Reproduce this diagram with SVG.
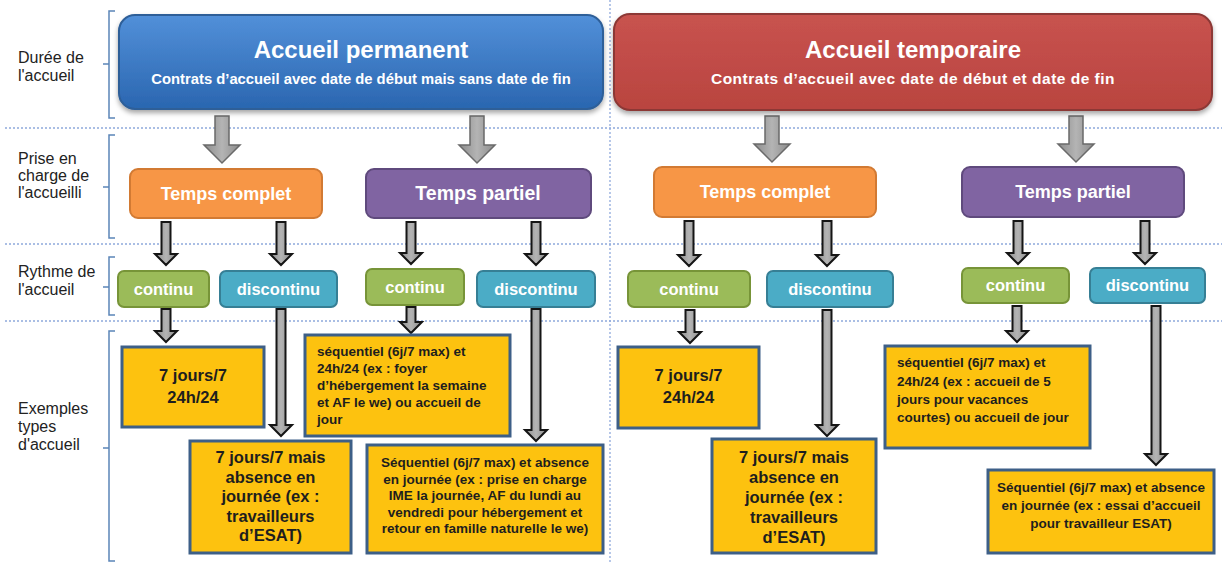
<svg xmlns="http://www.w3.org/2000/svg" width="1222" height="564" viewBox="0 0 1222 564">
<defs>
<linearGradient id="gBlue" x1="0" y1="0" x2="0" y2="1"><stop offset="0" stop-color="#5290d9"/><stop offset="1" stop-color="#2a66b0"/></linearGradient>
<linearGradient id="gRed" x1="0" y1="0" x2="0" y2="1"><stop offset="0" stop-color="#c8534f"/><stop offset="1" stop-color="#b9443f"/></linearGradient>
<linearGradient id="gArr" x1="0" y1="0" x2="1" y2="0"><stop offset="0" stop-color="#8c8c8c"/><stop offset="0.5" stop-color="#b4b4b4"/><stop offset="1" stop-color="#8c8c8c"/></linearGradient>
<filter id="sh" x="-5%" y="-10%" width="110%" height="130%"><feDropShadow dx="0" dy="3" stdDeviation="2.5" flood-color="#000" flood-opacity="0.35"/></filter>
</defs>
<style>
.lbl{font-family:"Liberation Sans",Arial,sans-serif;font-size:16px;fill:#222}
.brk{fill:none;stroke:#5b85b8;stroke-width:1.5}
.dot{stroke:#8fa9dc;stroke-width:1.3;stroke-dasharray:2 2;fill:none}
.wt{font-family:"Liberation Sans",Arial,sans-serif;font-weight:bold;fill:#fff;text-anchor:middle}
.yb{fill:#fdc20f;stroke:#3d5f87;stroke-width:3}
.yt{font-family:"Liberation Sans",Arial,sans-serif;font-weight:bold;fill:#1e1e1e;font-size:13.5px}
.yc{text-anchor:middle}
.big{font-size:16.5px}
.barr{fill:url(#gArr);stroke:#6a6a6a;stroke-width:1.5;stroke-linejoin:miter}
.arr{fill:url(#gArr);stroke:#151515;stroke-width:2;stroke-linejoin:miter}
.orange{fill:#f79646;stroke:#d27a33;stroke-width:2}
.purple{fill:#8064a2;stroke:#5f4a7d;stroke-width:2}
.green{fill:#9bbb59;stroke:#779438;stroke-width:2}
.teal{fill:#4bacc6;stroke:#367f95;stroke-width:2}
</style>
<rect width="1222" height="564" fill="#fff"/>
<g id="grid">
<path class="dot" d="M5,128 H1222 M5,244 H1222 M5,321 H1222"/>
<path class="dot" d="M610,0 V564"/>
</g>
<g id="row-labels">
<path class="brk" d="M115,11 H109 V118 H115 M109,64 H103"/>
<text class="lbl" x="18" y="63">Durée de</text>
<text class="lbl" x="18" y="81">l'accueil</text>
<path class="brk" d="M115,135 H109 V238 H115 M109,187 H103"/>
<text class="lbl" x="18" y="164">Prise en</text>
<text class="lbl" x="18" y="181">charge de</text>
<text class="lbl" x="18" y="198">l'accueilli</text>
<path class="brk" d="M115,257 H109 V315 H115 M109,287 H103"/>
<text class="lbl" x="18" y="277">Rythme de</text>
<text class="lbl" x="18" y="295">l'accueil</text>
<path class="brk" d="M115,331 H109 V561 H115 M109,448 H103"/>
<text class="lbl" x="18" y="414">Exemples</text>
<text class="lbl" x="18" y="432">types</text>
<text class="lbl" x="18" y="450">d'accueil</text>
</g>
<g id="connectors">
<path class="barr" d="M215,116 H229 V145 H240 L222,163 L204,145 H215 Z"/>
<path class="barr" d="M470,116 H484 V145 H495 L477,163 L459,145 H470 Z"/>
<path class="barr" d="M765,116 H779 V144 H790 L772,162 L754,144 H765 Z"/>
<path class="barr" d="M1069,116 H1083 V144 H1094 L1076,162 L1058,144 H1069 Z"/>
<path class="arr" d="M161.5,222 H170.5 V254 H177 L166,265 L155,254 H161.5 Z"/>
<path class="arr" d="M276.5,222 H285.5 V254 H292 L281,265 L270,254 H276.5 Z"/>
<path class="arr" d="M406.5,222 H415.5 V253 H422 L411,264 L400,253 H406.5 Z"/>
<path class="arr" d="M531.5,222 H540.5 V254 H547 L536,265 L525,254 H531.5 Z"/>
<path class="arr" d="M684.5,221 H693.5 V255 H700 L689,266 L678,255 H684.5 Z"/>
<path class="arr" d="M822.5,221 H831.5 V255 H838 L827,266 L816,255 H822.5 Z"/>
<path class="arr" d="M1013.5,221 H1022.5 V253 H1029 L1018,264 L1007,253 H1013.5 Z"/>
<path class="arr" d="M1140.5,221 H1149.5 V253 H1156 L1145,264 L1134,253 H1140.5 Z"/>
<path class="arr" d="M161.5,309 H170.5 V331 H177 L166,342 L155,331 H161.5 Z"/>
<path class="arr" d="M276.5,309 H285.5 V425 H292 L281,436 L270,425 H276.5 Z"/>
<path class="arr" d="M406.5,307 H415.5 V322 H422 L411,333 L400,322 H406.5 Z"/>
<path class="arr" d="M531.5,309 H540.5 V430 H547 L536,441 L525,430 H531.5 Z"/>
<path class="arr" d="M685.5,310 H694.5 V332 H701 L690,343 L679,332 H685.5 Z"/>
<path class="arr" d="M822.5,310 H831.5 V425 H838 L827,436 L816,425 H822.5 Z"/>
<path class="arr" d="M1012.5,306 H1021.5 V331 H1028 L1017,342 L1006,331 H1012.5 Z"/>
<path class="arr" d="M1151.5,306 H1160.5 V454 H1167 L1156,465 L1145,454 H1151.5 Z"/>
</g>
<g id="accueil-permanent">
<rect x="119" y="15" width="484" height="94" rx="16" fill="url(#gBlue)" stroke="#2d5e98" stroke-width="2" filter="url(#sh)"/>
<text class="wt" x="361" y="58" font-size="24px">Accueil permanent</text>
<text class="wt" x="361" y="84" font-size="14.8px">Contrats d’accueil avec date de début mais sans date de fin</text>
</g>
<g id="accueil-temporaire">
<rect x="614" y="14" width="598" height="96" rx="16" fill="url(#gRed)" stroke="#8c3936" stroke-width="2" filter="url(#sh)"/>
<text class="wt" x="913" y="58" font-size="24px">Accueil temporaire</text>
<text class="wt" x="913" y="84" font-size="15.5px" letter-spacing="0.5">Contrats d’accueil avec date de début et date de fin</text>
</g>
<g id="tc-perm"><rect class="orange" x="130" y="169" width="192" height="49" rx="8"/><text class="wt" x="226" y="200" font-size="18px">Temps complet</text></g>
<g id="tp-perm"><rect class="purple" x="366" y="169" width="225" height="49" rx="8"/><text class="wt" x="478" y="200" font-size="19.5px">Temps partiel</text></g>
<g id="tc-temp"><rect class="orange" x="654" y="167" width="222" height="50" rx="8"/><text class="wt" x="765" y="198" font-size="18px">Temps complet</text></g>
<g id="tp-temp"><rect class="purple" x="962" y="167" width="222" height="50" rx="8"/><text class="wt" x="1073" y="198" font-size="18px">Temps partiel</text></g>
<g id="c1"><rect class="green" x="118" y="271" width="91" height="36" rx="6"/><text class="wt" x="163.5" y="295" font-size="16.5px">continu</text></g>
<g id="d1"><rect class="teal" x="220" y="271" width="117" height="36" rx="6"/><text class="wt" x="278.5" y="295" font-size="16.5px">discontinu</text></g>
<g id="c2"><rect class="green" x="366" y="269" width="98" height="36" rx="6"/><text class="wt" x="415" y="293" font-size="16.5px">continu</text></g>
<g id="d2"><rect class="teal" x="477" y="271" width="118" height="36" rx="6"/><text class="wt" x="536" y="295" font-size="16.5px">discontinu</text></g>
<g id="c3"><rect class="green" x="628" y="271" width="122" height="36" rx="6"/><text class="wt" x="689" y="295" font-size="16.5px">continu</text></g>
<g id="d3"><rect class="teal" x="767" y="271" width="126" height="36" rx="6"/><text class="wt" x="830" y="295" font-size="16.5px">discontinu</text></g>
<g id="c4"><rect class="green" x="962" y="268" width="107" height="35" rx="6"/><text class="wt" x="1015.5" y="291" font-size="16.5px">continu</text></g>
<g id="d4"><rect class="teal" x="1090" y="268" width="115" height="35" rx="6"/><text class="wt" x="1147.5" y="291" font-size="16.5px">discontinu</text></g>
<g id="ex1"><rect class="yb" x="122" y="347" width="142" height="80"/>
<text class="yt yc big" x="193" y="381">7 jours/7</text><text class="yt yc big" x="193" y="403">24h/24</text></g>
<g id="ex2"><rect class="yb" x="190" y="441" width="161" height="112"/>
<text class="yt yc big" x="270.5" y="463">7 jours/7 mais</text><text class="yt yc big" x="270.5" y="482.5">absence en</text><text class="yt yc big" x="270.5" y="502">journée (ex :</text><text class="yt yc big" x="270.5" y="521.5">travailleurs</text><text class="yt yc big" x="270.5" y="541">d’ESAT)</text></g>
<g id="ex3"><rect class="yb" x="305" y="335" width="205" height="101"/>
<text class="yt" x="317" y="356" font-size="14px">séquentiel (6j/7 max) et</text><text class="yt" x="317" y="373" font-size="14px">24h/24 (ex : foyer</text><text class="yt" x="317" y="390" font-size="14px">d’hébergement la semaine</text><text class="yt" x="317" y="407" font-size="14px">et AF le we) ou accueil de</text><text class="yt" x="317" y="424" font-size="14px">jour</text></g>
<g id="ex4"><rect class="yb" x="367" y="445" width="236" height="108"/>
<text class="yt yc" x="485" y="467">Séquentiel (6j/7 max) et absence</text><text class="yt yc" x="485" y="483.5">en journée (ex : prise en charge</text><text class="yt yc" x="485" y="500">IME la journée, AF du lundi au</text><text class="yt yc" x="485" y="516.5">vendredi pour hébergement et</text><text class="yt yc" x="485" y="533">retour en famille naturelle le we)</text></g>
<g id="ex5"><rect class="yb" x="618" y="347" width="141" height="81"/>
<text class="yt yc big" x="688.5" y="381">7 jours/7</text><text class="yt yc big" x="688.5" y="403">24h/24</text></g>
<g id="ex6"><rect class="yb" x="712" y="439" width="164" height="114"/>
<text class="yt yc big" x="794" y="463">7 jours/7 mais</text><text class="yt yc big" x="794" y="483">absence en</text><text class="yt yc big" x="794" y="503">journée (ex :</text><text class="yt yc big" x="794" y="523">travailleurs</text><text class="yt yc big" x="794" y="543">d’ESAT)</text></g>
<g id="ex7"><rect class="yb" x="885" y="346" width="205" height="102"/>
<text class="yt" x="897" y="367">séquentiel (6j/7 max) et</text><text class="yt" x="897" y="386">24h/24 (ex : accueil de 5</text><text class="yt" x="897" y="404">jours pour vacances</text><text class="yt" x="897" y="422">courtes) ou accueil de jour</text></g>
<g id="ex8"><rect class="yb" x="988" y="470" width="226" height="83"/>
<text class="yt yc" x="1101" y="492">Séquentiel (6j/7 max) et absence</text><text class="yt yc" x="1101" y="510">en journée (ex : essai d’accueil</text><text class="yt yc" x="1101" y="528">pour travailleur ESAT)</text></g>
</svg>
